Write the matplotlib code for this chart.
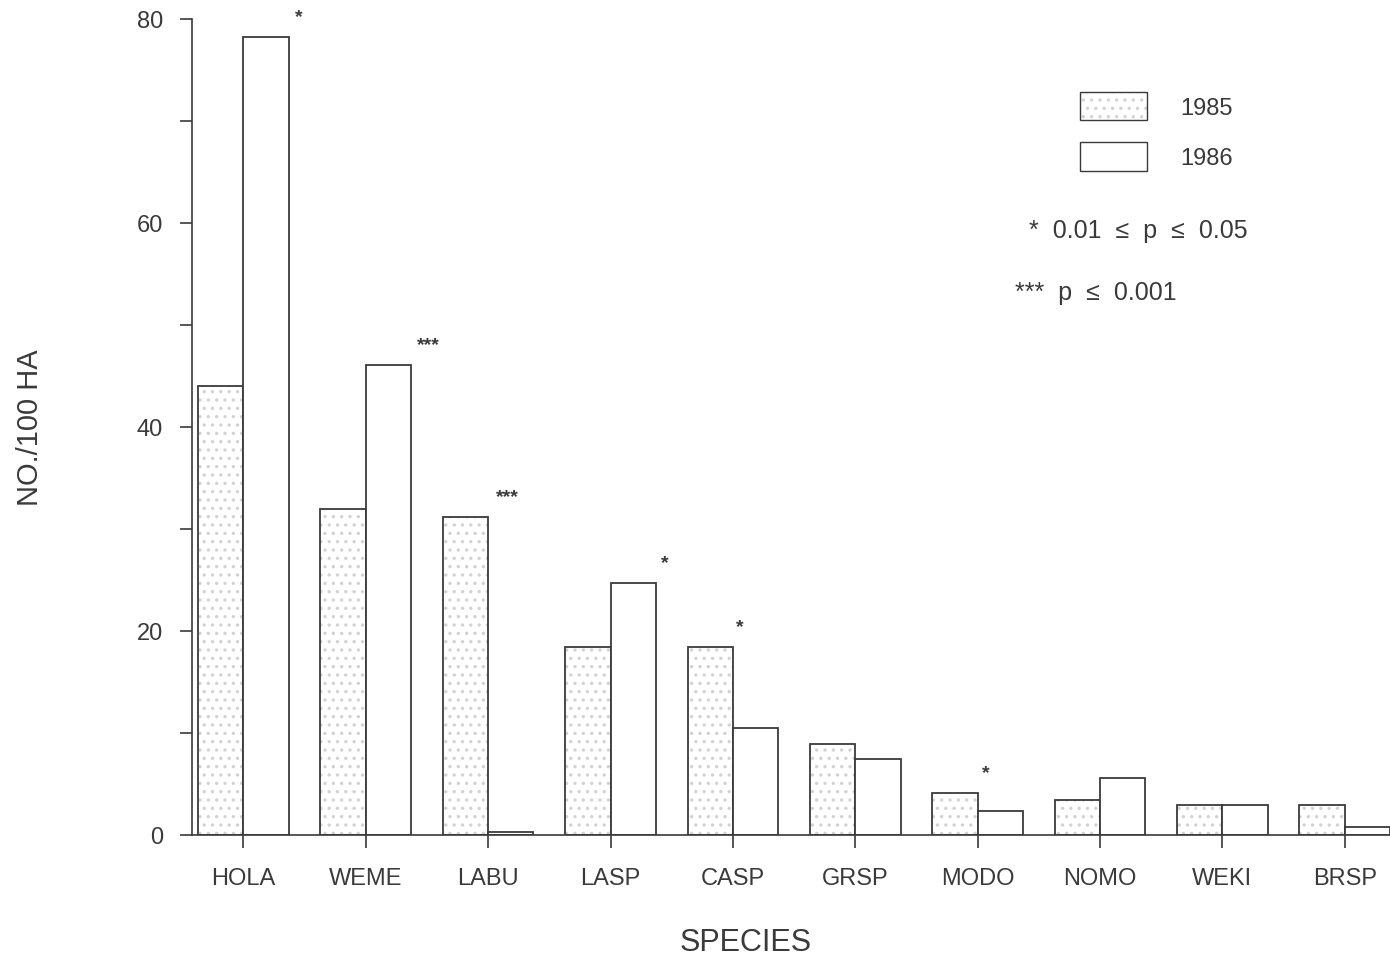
import matplotlib.pyplot as plt
import matplotlib.patches as mpatches
import numpy as np

species = ['HOLA', 'WEME', 'LABU', 'LASP', 'CASP', 'GRSP', 'MODO', 'NOMO', 'WEKI', 'BRSP']
density_1985 = [44.0, 32.0, 31.2, 18.4, 18.4, 8.9, 4.1, 3.4, 2.9, 2.9]
density_1986 = [78.2, 46.1, 0.3, 24.7, 10.5, 7.5, 2.4, 5.6, 2.9, 0.8]
signif = ['*', '***', '***', '*', '*', '', '*', '', '', '']
# where each significance mark sits to the right of the species tick
star_dx = [0.45, 0.51, 0.16, 0.44, 0.06, 0.0, 0.07, 0.0, 0.0, 0.0]

ink = '#3a3a3a'
dots = '#d2d2d2'
plt.rcParams['font.family'] = ['Liberation Sans', 'DejaVu Sans']
plt.rcParams['hatch.linewidth'] = 1.2

fig = plt.figure(figsize=(13.9, 9.62), dpi=100)
ax = fig.add_axes([192 / 1390, 1 - 836 / 962, 1 - 192 / 1390, (836 - 20) / 962])

x = np.arange(len(species))
w = 0.37

# 1985: dotted fill drawn first, outline on top
ax.bar(x - w / 2, density_1985, w, color='white', hatch='..', edgecolor=dots, linewidth=0)
ax.bar(x - w / 2, density_1985, w, fill=False, edgecolor=ink, linewidth=1.3)
ax.bar(x + w / 2, density_1986, w, color='white', edgecolor=ink, linewidth=1.3)

for i, s in enumerate(signif):
    if s:
        top = max(density_1985[i], density_1986[i])
        ax.text(i + star_dx[i], top + 2.0, s, ha='center', va='center',
                fontsize=14, fontweight='bold', color=ink, clip_on=False)

ax.set_xlim(-0.42, len(species) - 1 + 0.37)
ax.set_ylim(0, 80)
ax.set_xticks(x)
ax.set_xticklabels(species, fontsize=17, color=ink)
ax.set_yticks([0, 20, 40, 60, 80])
ax.set_yticks([10, 30, 50, 70], minor=True)
ax.tick_params(axis='y', which='both', length=9, width=1.2, color=ink, labelsize=17,
               labelcolor=ink, pad=12)
ax.tick_params(axis='x', length=9, width=1.2, color=ink, pad=14)
for side in ('top', 'right'):
    ax.spines[side].set_visible(False)
for side in ('left', 'bottom'):
    ax.spines[side].set_color(ink)
    ax.spines[side].set_linewidth(1.2)

fig.text(30 / 1390, 1 - 428 / 962, 'NO./100 HA', rotation=90, ha='center', va='center',
         fontsize=21, color=ink)
fig.text(746 / 1390, 1 - 943 / 962, 'SPECIES', ha='center', va='center',
         fontsize=22, color=ink)

h85 = (mpatches.Patch(facecolor='white', hatch='..', edgecolor=dots, linewidth=0),
       mpatches.Patch(fill=False, edgecolor=ink, linewidth=1.0))
h86 = mpatches.Patch(facecolor='white', edgecolor=ink, linewidth=1.0)
fig.legend(handles=[h85, h86], labels=['1985', '1986'], loc='upper left',
           bbox_to_anchor=(1080 / 1390, 1 - 93 / 962),
           frameon=False, fontsize=17, handlelength=2.85, handleheight=1.45,
           handletextpad=1.4, labelspacing=0.95, borderpad=0, borderaxespad=0,
           labelcolor=ink)

fig.text(1248 / 1390, 1 - 231 / 962, '*  0.01  \u2264  p  \u2264  0.05', ha='right', va='center',
         fontsize=18, color=ink)
fig.text(1015 / 1390, 1 - 293 / 962, '***  p  \u2264  0.001', ha='left', va='center',
         fontsize=18, color=ink)

fig.savefig('out.png', dpi=100, facecolor='white')
